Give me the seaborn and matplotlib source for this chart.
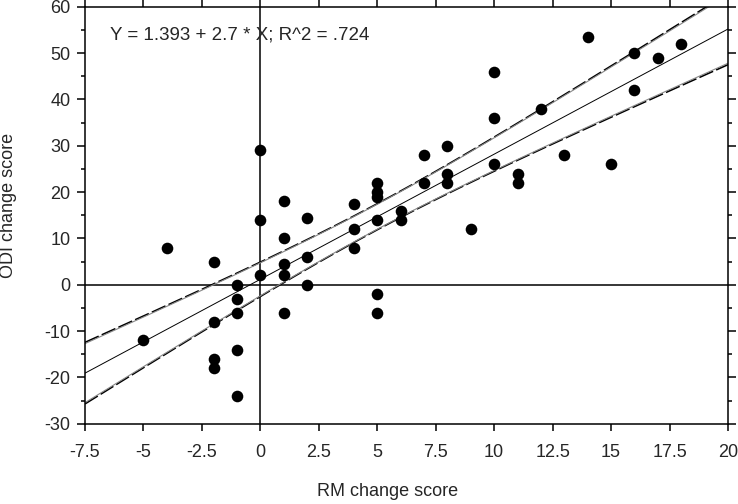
import numpy as np
import pandas as pd
import matplotlib
matplotlib.use("Agg")
import matplotlib.pyplot as plt
import seaborn as sns
from matplotlib.ticker import MultipleLocator

# values
rm_change = [-5, -4, -2, -2, -2, -2, -1, -1, -1, -1, -1, 0, 0, 0,
             1, 1, 1, 1, 1, 2, 2, 2, 4, 4, 4, 5, 5, 5, 5, 5, 5,
             6, 6, 7, 7, 8, 8, 8, 9, 10, 10, 10, 11, 11, 12, 13,
             14, 15, 16, 16, 17, 18]
odi_change = [-12, 8, 5, -8, -16, -18, 0, -3, -6, -14, -24, 29, 14, 2,
              18, 10, 4.5, 2, -6, 14.5, 6, 0, 17.5, 12, 8, 22, 20, 19, 14, -2, -6,
              16, 14, 28, 22, 30, 24, 22, 12, 46, 36, 26, 24, 22, 38, 28,
              53.5, 26, 50, 42, 49, 52]
equation = "Y = 1.393 + 2.7 * X; R^2 = .724"

df = pd.DataFrame({"rm": rm_change, "odi": odi_change})

sns.set_style("ticks")
plt.rcParams['font.family'] = ['Liberation Sans', 'DejaVu Sans']
plt.rcParams['axes.unicode_minus'] = False

fig = plt.figure(figsize=(7.38, 5.04), dpi=100)
ax = fig.add_axes([0.1152, 0.1593, 0.8712, 0.8274])
ax.set_xlim(-7.5, 20)
ax.set_ylim(-30, 60)

ax.axhline(0, color='black', lw=1.1, zorder=1)
ax.axvline(0, color='black', lw=1.1, zorder=1)

sns.regplot(data=df, x="rm", y="odi", ax=ax, ci=None, truncate=False,
            scatter_kws=dict(s=70, color='black', linewidths=0, alpha=1, zorder=3),
            line_kws=dict(color='black', lw=0.7, zorder=2))

# 95% confidence bands of the fit
x = np.asarray(rm_change, float)
y = np.asarray(odi_change, float)
n = len(x)
slope, icpt = np.polyfit(x, y, 1)
resid = y - (icpt + slope * x)
s = np.sqrt(np.sum(resid ** 2) / (n - 2))
sxx = np.sum((x - x.mean()) ** 2)
grid = np.linspace(-7.5, 20, 300)
fit = icpt + slope * grid
se = s * np.sqrt(1 / n + (grid - x.mean()) ** 2 / sxx)
for crit, style in [(2.01, dict(color='black', lw=1.2, ls=(0, (9, 2)))),
                    (1.93, dict(color='#888888', lw=0.8, ls='-'))]:
    ax.plot(grid, fit + crit * se, zorder=2, **style)
    ax.plot(grid, fit - crit * se, zorder=2, **style)

ax.text(-6.45, 53.9, equation, fontsize=13.5, va='center', ha='left')

ax.xaxis.set_major_locator(MultipleLocator(2.5))
ax.yaxis.set_major_locator(MultipleLocator(10))
ax.yaxis.set_minor_locator(MultipleLocator(5))
ax.xaxis.set_major_formatter(plt.FuncFormatter(lambda v, p: f"{v:g}"))
ax.tick_params(axis='both', which='both', direction='out', top=True, right=True,
               labeltop=False, labelright=False, color='black', width=1.1)
ax.tick_params(axis='both', which='major', length=5.5, labelsize=13)
ax.tick_params(axis='y', which='minor', length=3)
ax.tick_params(axis='x', which='major', length=5, pad=9.5)
ax.tick_params(axis='y', which='major', pad=5)
for sp in ax.spines.values():
    sp.set_visible(True)
    sp.set_linewidth(1.1)
    sp.set_color('black')

ax.set_xlabel("RM change score", fontsize=13)
ax.set_ylabel("ODI change score", fontsize=13, va='center')
ax.xaxis.set_label_coords(0.471, -0.142)
ax.yaxis.set_label_coords(-0.119, 0.524)

fig.savefig("out.png", dpi=100)
